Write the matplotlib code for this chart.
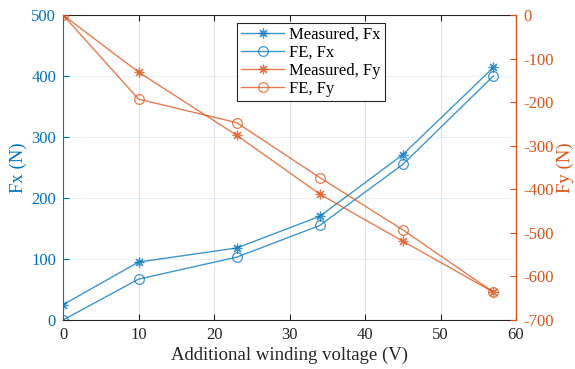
'''
Force vs additional winding voltage, measured and FE
'''
import matplotlib
matplotlib.use('Agg')
import matplotlib.pyplot as plt

# ---------------------------------
voltage     = [0, 10, 23, 34, 45, 57]
fx_measured = [25, 95, 118, 170, 271, 414]
fx_fe       = [0, 67, 103, 155, 255, 400]
fy_measured = [0, -131, -276, -411, -519, -636]
fy_fe       = [0, -193, -247, -373, -493, -636]

x_ticks     = [0, 10, 20, 30, 40, 50, 60]
fx_ticks    = [0, 100, 200, 300, 400, 500]
fy_ticks    = [0, -100, -200, -300, -400, -500, -600, -700]

BLUE   = '#0072BD'
ORANGE = '#D95319'
ASTER  = (8, 2, 0)
# ---------------------------------
plt.rcParams['font.family']        = ['Liberation Serif', 'DejaVu Serif']
plt.rcParams['axes.unicode_minus'] = False

fig = plt.figure(figsize=(5.75, 3.69), dpi=100)
ax1 = fig.add_axes([0.1096, 0.1328, 0.7878, 0.8265])
ax2 = ax1.twinx()

style = dict(lw=1.0, ms=7, mew=0.9, alpha=0.75)
h1, = ax1.plot(voltage, fx_measured, color=BLUE, marker=ASTER, label='Measured, Fx', **style)
h2, = ax1.plot(voltage, fx_fe, color=BLUE, marker='o', mfc='none', label='FE, Fx', **style)
h3, = ax2.plot(voltage, fy_measured, color=ORANGE, marker=ASTER, label='Measured, Fy', **style)
h4, = ax2.plot(voltage, fy_fe, color=ORANGE, marker='o', mfc='none', label='FE, Fy', **style)

ax1.set_xlim(0, 60)
ax1.set_ylim(0, 500)
ax2.set_ylim(-700, 0)
ax1.set_xticks(x_ticks)
ax1.set_yticks(fx_ticks)
ax2.set_yticks(fy_ticks)

ax1.set_axisbelow(True)
ax1.xaxis.grid(True, color='#262626', alpha=0.12, lw=0.8)
ax1.yaxis.grid(True, color=BLUE, alpha=0.10, lw=0.8)

ax1.tick_params(axis='x', direction='in', length=4, labelsize=12, colors='#262626', top=True, pad=5)
ax1.tick_params(axis='y', direction='in', length=4, labelsize=12, colors=BLUE, pad=5)
ax2.tick_params(axis='y', direction='in', length=4, labelsize=12, colors=ORANGE, pad=5)

ax1.spines['left'].set_color(BLUE)
ax2.spines['left'].set_visible(False)
ax2.spines['right'].set_color(ORANGE)
for sp in ['top', 'bottom']:
    ax1.spines[sp].set_color('#262626')
    ax2.spines[sp].set_visible(False)
for ax in [ax1, ax2]:
    for sp in ax.spines.values():
        sp.set_linewidth(0.8)

ax1.set_xlabel('Additional winding voltage (V)', fontsize=13.5, color='#262626', labelpad=3)
ax1.set_ylabel('Fx (N)', fontsize=13.5, color=BLUE, labelpad=3)
ax2.set_ylabel('Fy (N)', fontsize=13.5, color=ORANGE, labelpad=2)

leg = ax2.legend(handles=[h1, h2, h3, h4], loc='upper left', bbox_to_anchor=(0.384, 0.974),
                 fontsize=12, fancybox=False, framealpha=1, edgecolor='#262626',
                 borderpad=0.25, labelspacing=0.12, handlelength=2.6, handletextpad=0.3, borderaxespad=0)
leg.get_frame().set_linewidth(0.8)

fig.savefig('out.png', dpi=100)
